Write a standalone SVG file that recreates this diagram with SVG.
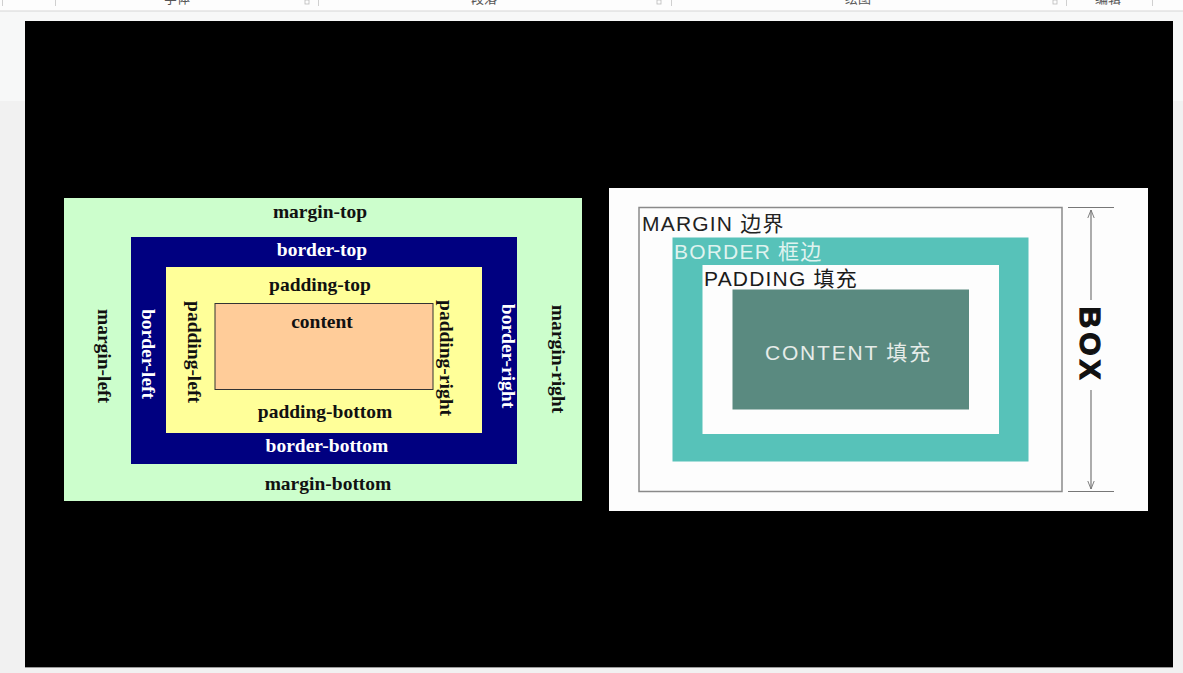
<svg xmlns="http://www.w3.org/2000/svg" width="1183" height="673" viewBox="0 0 1183 673">
  <defs>
    <style>
      .ser { font-family: "Liberation Serif", "Times New Roman", serif; font-weight: bold; font-size: 19.5px; text-anchor: middle; }
      .dk { fill: #111; }
      .wt { fill: #ffffff; }
      .san { font-family: "Liberation Sans", Arial, "Noto Sans CJK SC", sans-serif; font-size: 21px; letter-spacing: 1.2px; }
      .tb { font-family: "Noto Sans CJK SC", sans-serif; font-size: 13px; fill: #555; text-anchor: middle; }
      .sep { stroke: #d0d0d0; stroke-width: 1; }
      .dim { stroke: #777; stroke-width: 1.2; fill: none; }
    </style>
    <marker id="openArrow" viewBox="0 0 10 10" refX="10" refY="5" markerWidth="8" markerHeight="8" orient="auto-start-reverse" markerUnits="userSpaceOnUse">
      <path d="M0,1 L10,5 L0,9" fill="none" stroke="#777" stroke-width="1.2"/>
    </marker>
  </defs>

  <!-- window background -->
  <rect x="0" y="0" width="1183" height="673" fill="#f1f1f1"/>
  <rect x="0" y="0" width="1183" height="11" fill="#fdfdfd"/>
  <rect x="0" y="11" width="1183" height="90" fill="#f7f8f8"/>
  <line x1="0" y1="11" x2="1183" y2="11" stroke="#d6d6d6"/>
  <g id="toolbar">
    <line class="sep" x1="2.5" y1="0" x2="2.5" y2="6"/>
    <line class="sep" x1="55.5" y1="0" x2="55.5" y2="6"/>
    <line class="sep" x1="318.5" y1="0" x2="318.5" y2="6"/>
    <line class="sep" x1="671.5" y1="0" x2="671.5" y2="6"/>
    <line class="sep" x1="1066.5" y1="0" x2="1066.5" y2="6"/>
    <line class="sep" x1="1152.5" y1="0" x2="1152.5" y2="6"/>
    <rect x="305" y="0" width="4" height="4" fill="none" stroke="#bbb" stroke-width="0.8"/>
    <rect x="657" y="0" width="4" height="4" fill="none" stroke="#bbb" stroke-width="0.8"/>
    <rect x="1053" y="0" width="4" height="4" fill="none" stroke="#bbb" stroke-width="0.8"/>
    <text class="tb" x="177" y="3">字体</text>
    <text class="tb" x="484" y="3">段落</text>
    <text class="tb" x="858" y="3">绘图</text>
    <text class="tb" x="1108" y="3">编辑</text>
  </g>

  <!-- black slide -->
  <rect x="25" y="21" width="1148" height="646" fill="#000"/>
  <line x1="25" y1="667.5" x2="1173" y2="667.5" stroke="#9a9a9a"/>

  <!-- LEFT: classic box model -->
  <g id="margin-box">
    <rect x="64" y="198" width="518" height="303" fill="#ccfecc"/>
    <text class="ser dk" x="320" y="218">margin-top</text>
    <text class="ser dk" x="328" y="490">margin-bottom</text>
    <text class="ser dk" transform="translate(104,356) rotate(90)" dominant-baseline="central">margin-left</text>
    <text class="ser dk" transform="translate(558,359) rotate(90)" dominant-baseline="central">margin-right</text>
  </g>
  <g id="border-box">
    <rect x="131" y="237" width="386" height="227" fill="#000080"/>
    <text class="ser wt" x="322" y="256">border-top</text>
    <text class="ser wt" x="327" y="452">border-bottom</text>
    <text class="ser wt" transform="translate(148,354) rotate(90)" dominant-baseline="central">border-left</text>
    <text class="ser wt" transform="translate(508,356) rotate(90)" dominant-baseline="central">border-right</text>
  </g>
  <g id="padding-box">
    <rect x="166" y="267" width="316" height="166" fill="#ffff99"/>
    <text class="ser dk" x="320" y="291">padding-top</text>
    <text class="ser dk" x="325" y="418">padding-bottom</text>
    <text class="ser dk" transform="translate(194,352) rotate(90)" dominant-baseline="central">padding-left</text>
    <text class="ser dk" transform="translate(446,358) rotate(90)" dominant-baseline="central">padding-right</text>
  </g>
  <g id="content-box">
    <rect x="215" y="303.5" width="218" height="86" fill="#ffcc99" stroke="#333" stroke-width="1"/>
    <text class="ser dk" x="322" y="328">content</text>
  </g>

  <!-- RIGHT: modern box model -->
  <rect x="609" y="188" width="539" height="323" fill="#fdfdfd"/>
  <g id="margin-area">
    <rect x="639" y="207.5" width="423" height="284" fill="none" stroke="#8a8a8a" stroke-width="1.5"/>
    <text class="san" x="642" y="231" fill="#222">MARGIN 边界</text>
  </g>
  <g id="border-area">
    <rect x="672.5" y="237.5" width="356" height="224" fill="#57c2b9"/>
    <text class="san" x="674" y="259" fill="#dff3ef">BORDER 框边</text>
  </g>
  <g id="padding-area">
    <rect x="702.5" y="265" width="296.5" height="169" fill="#fdfdfd"/>
    <text class="san" x="704" y="286" fill="#1a1a1a">PADDING 填充</text>
  </g>
  <g id="content-area">
    <rect x="732.5" y="289.5" width="236.5" height="120" fill="#5a8a80"/>
    <text class="san" x="765" y="360" fill="#e6ece9" style="letter-spacing:1.8px">CONTENT 填充</text>
  </g>
  <g id="box-label">
    <text transform="translate(1090,345) rotate(90)" text-anchor="middle" dominant-baseline="central" font-family="Liberation Sans, Arial, sans-serif" font-weight="bold" font-size="30" letter-spacing="4" fill="#111" stroke="#111" stroke-width="1.2">BOX</text>
  </g>
  <g id="connectors">
    <line class="dim" x1="1068" y1="207.5" x2="1114" y2="207.5"/>
    <line class="dim" x1="1068" y1="491.5" x2="1114" y2="491.5"/>
    <line class="dim" x1="1091" y1="300" x2="1091" y2="210" marker-end="url(#openArrow)"/>
    <line class="dim" x1="1091" y1="390" x2="1091" y2="489" marker-end="url(#openArrow)"/>
  </g>
</svg>
